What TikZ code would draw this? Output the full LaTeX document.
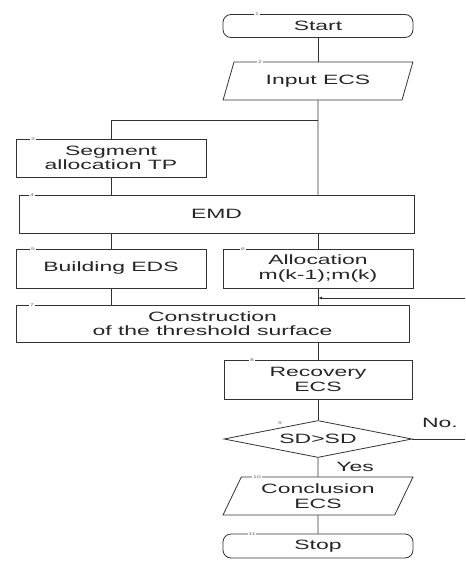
\documentclass[tikz,border=0pt]{standalone}
\usepackage{fontspec}
\setmainfont{Liberation Sans}[FakeStretch=1.7]
\usetikzlibrary{shapes.geometric,arrows.meta}
\tikzset{
  base/.style={draw=black!80, line width=0.8pt, inner sep=0pt, align=center,
    font=\fontsize{13.5}{14.5}\selectfont, text=black!85},
  box/.style={base, rectangle, minimum height=38pt},
  term/.style={base, rectangle, rounded corners=8pt, minimum width=190pt, minimum height=23pt},
  io/.style={base, trapezium, trapezium left angle=61, trapezium right angle=119,
    trapezium stretches=true, minimum width=190pt, minimum height=38pt},
  dec/.style={base, diamond, shape aspect=5.08, minimum width=188pt, minimum height=37pt},
  num/.style={fill=white, inner sep=0.8pt, text=black!60, font=\fontsize{4}{4}\selectfont},
  line/.style={draw=black!80, line width=0.8pt},
  lbl/.style={font=\fontsize{13.5}{14.5}\selectfont, text=black!85, inner sep=0pt}
}
\begin{document}
\begin{tikzpicture}[x=1pt,y=-1pt]
\useasboundingbox (0,0) rectangle (465,561);
\fill[white] (0,0) rectangle (465,561);
% nodes
\node[term] (start) at (318,26) {Start};
\node[io] (input) at (318,81) {Input ECS};
\node[box, minimum width=190pt] (seg) at (111,158) {Segment\\allocation TP};
\node[box, minimum width=395pt] (emd) at (216.5,214) {EMD};
\node[box, minimum width=190pt, minimum height=39pt] (b5) at (111,268.5) {Building EDS};
\node[box, minimum width=190pt, minimum height=39pt] (b6) at (318,268.5) {Allocation\\m(k-1);m(k)};
\node[box, minimum width=393pt, minimum height=37pt] (b7) at (212.5,323.5) {Construction\\of the threshold surface};
\node[box, minimum width=188pt, minimum height=39pt] (b8) at (318,379.5) {Recovery\\ECS};
\node[dec] (d9) at (318,439) {SD>SD};
\node[io] (concl) at (318,496) {Conclusion\\ECS};
\node[term, minimum height=24pt] (stop) at (318,546) {Stop};
% numbers
\node[num] at (257,14.5) {1};
\node[num] at (260,62) {2};
\node[num] at (33,139) {3};
\node[num] at (32,195) {4};
\node[num] at (33,249) {5};
\node[num] at (243,249) {6};
\node[num] at (32,305) {7};
\node[num] at (252,360) {8};
\node[num] at (280,423) {9};
\node[num] at (257,477) {10};
\node[num] at (252,534) {11};
% junctions
\coordinate (j1) at (318,120);
\coordinate (j2) at (111,120);
\coordinate (fb) at (465,298);
\coordinate (noend) at (465,439);
% connectors
\draw[line] (start) -- (input);
\draw[line] (input.south) -- (j1) -- (j1 |- emd.north);
\draw[line] (j1) -- (j2) -- (seg.north);
\draw[line] (seg.south) -- (seg.south |- emd.north);
\draw[line] (b5.north |- emd.south) -- (b5.north);
\draw[line] (b6.north |- emd.south) -- (b6.north);
\draw[line] (b5.south) -- (b5.south |- b7.north);
\draw[line] (b6.south) -- (b6.south |- b7.north);
\draw[line, -{Latex[length=4pt,width=3pt]}] (fb) -- (fb -| b6.south);
\draw[line] (b8.north |- b7.south) -- (b8.north);
\draw[line] (b8.south) -- (d9.north);
\draw[line] (d9.east) -- (noend);
\draw[line] (d9.south) -- (concl.north);
\draw[line] (concl.south) -- (stop.north);
% labels
\node[lbl] (no) at (440,423) {No.};
\node[lbl] (yes) at (355,467) {Yes};
\end{tikzpicture}
\end{document}
